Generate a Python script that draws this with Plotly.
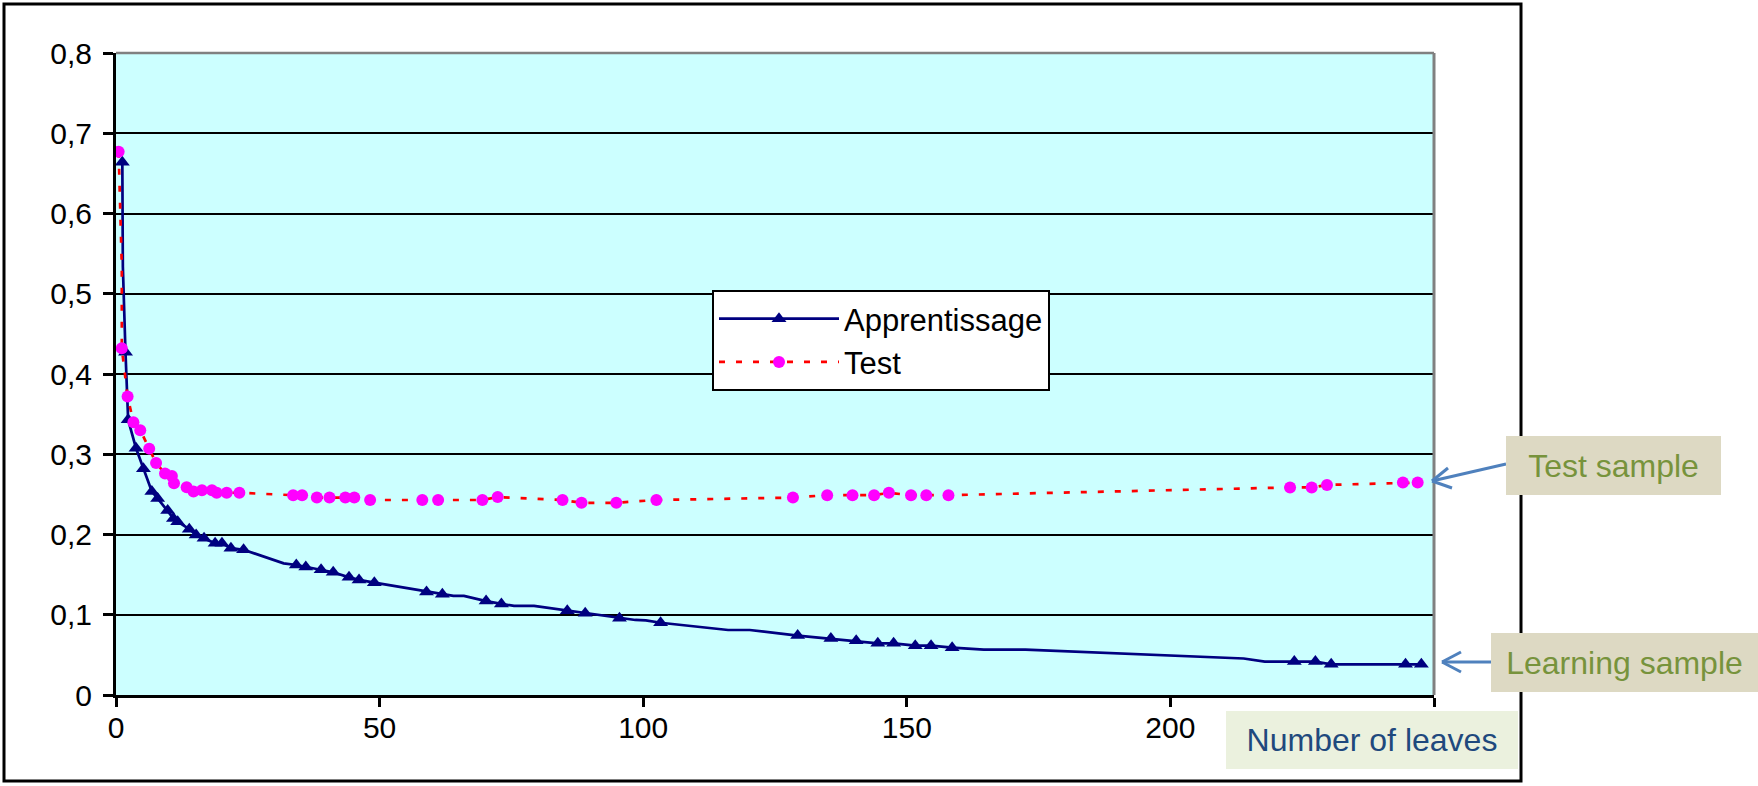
import plotly.graph_objects as go

# ---------------- data ----------------
appr_x = [1.2, 1.3, 1.8, 2.3, 3.8, 5.2, 6.8, 7.9, 9.8, 10.9, 11.7, 13.9, 15.2, 16.7,
          18.8, 20.1, 21.8, 24.2, 31.8, 34.2, 36.0, 38.9, 41.2, 44.2, 46.1, 49.0,
          58.9, 61.9, 64.0, 66.0, 70.2, 73.1, 75.5, 79.3, 85.6, 89.0, 95.5, 98.5,
          100.5, 103.3, 116.1, 120.2, 129.3, 135.6, 140.4, 144.5, 147.5, 151.6,
          154.6, 158.6, 164.6, 172.5, 213.9, 217.9, 223.5, 227.5, 230.5, 244.6, 247.6]
appr_y = [0.664, 0.534, 0.427, 0.343, 0.3075, 0.282, 0.2535, 0.245, 0.230, 0.220,
          0.216, 0.2066, 0.1995, 0.1954, 0.189, 0.189, 0.183, 0.181, 0.164, 0.162,
          0.1595, 0.156, 0.153, 0.1466, 0.1434, 0.140, 0.1285, 0.1255, 0.1235,
          0.1235, 0.117, 0.1135, 0.111, 0.111, 0.105, 0.102, 0.0955, 0.0935, 0.093,
          0.090, 0.081, 0.081, 0.074, 0.0703, 0.0677, 0.0644, 0.0644, 0.0615, 0.0615,
          0.059, 0.0566, 0.0566, 0.0455, 0.0416, 0.0416, 0.0416, 0.0382, 0.0382, 0.0382]
appr_marked = [1, 0, 1, 1, 1, 1, 1, 1, 1, 1, 1, 1, 1, 1, 1, 1, 1, 1, 0, 1, 1, 1, 1, 1,
               1, 1, 1, 1, 0, 0, 1, 1, 0, 0, 1, 1, 1, 0, 0, 1, 0, 0, 1, 1, 1, 1, 1, 1,
               1, 1, 0, 0, 0, 0, 1, 1, 1, 1, 1]

test_x = [0.5, 1.1, 1.1, 2.2, 3.3, 4.6, 6.3, 7.6, 9.3, 10.6, 11.0, 13.4, 14.7, 16.3,
          18.2, 19.1, 21.0, 23.4, 33.6, 35.3, 38.1, 40.5, 43.5, 45.2, 48.2, 58.1,
          61.1, 69.5, 72.4, 84.7, 88.3, 94.9, 102.5, 128.4, 134.9, 139.7, 143.8,
          146.6, 150.8, 153.7, 157.9, 222.7, 226.8, 229.7, 244.1, 246.9]
test_y = [0.677, 0.534, 0.432, 0.372, 0.340, 0.330, 0.307, 0.289, 0.276, 0.273, 0.264,
          0.259, 0.2535, 0.255, 0.255, 0.252, 0.252, 0.252, 0.249, 0.249, 0.246,
          0.246, 0.246, 0.246, 0.243, 0.243, 0.243, 0.243, 0.2466, 0.243, 0.2395,
          0.2395, 0.243, 0.246, 0.249, 0.249, 0.249, 0.252, 0.249, 0.249, 0.249,
          0.2586, 0.2586, 0.2618, 0.2647, 0.2647]
test_marked = [1, 0] + [1] * 44

series_names = ["Apprentissage", "Test"]
x_tick_vals = [0, 50, 100, 150, 200, 250]
x_tick_text = ["0", "50", "100", "150", "200", ""]
y_tick_vals = [0, 0.1, 0.2, 0.3, 0.4, 0.5, 0.6, 0.7, 0.8]
y_tick_text = ["0", "0,1", "0,2", "0,3", "0,4", "0,5", "0,6", "0,7", "0,8"]
label_test = "Test sample"
label_learn = "Learning sample"
label_xaxis = "Number of leaves"

# ---------------- layout geometry (pixels) ----------------
W, H = 1758, 786
L, R, T, B = 116, 1434, 53, 695
PW, PH = R - L, B - T


def px(X):
    return (X - L) / PW


def py(Y):
    return (B - Y) / PH


NAVY = "#000080"
RED = "#FF0000"
MAGENTA = "#FF00FF"
FONT = "Liberation Sans, Arial, sans-serif"

fig = go.Figure()

# Apprentissage
fig.add_trace(go.Scatter(x=appr_x, y=appr_y, mode="lines",
                         line=dict(color=NAVY, width=2.7), showlegend=False,
                         hoverinfo="skip"))
fig.add_trace(go.Scatter(x=[a for a, m in zip(appr_x, appr_marked) if m],
                         y=[b for b, m in zip(appr_y, appr_marked) if m],
                         mode="markers", showlegend=False,
                         marker=dict(symbol="triangle-up", size=13, color=NAVY)))
# Test
fig.add_trace(go.Scatter(x=test_x, y=test_y, mode="lines",
                         line=dict(color=RED, width=2.7, dash="6px,11px"),
                         showlegend=False, hoverinfo="skip"))
fig.add_trace(go.Scatter(x=[a for a, m in zip(test_x, test_marked) if m],
                         y=[b for b, m in zip(test_y, test_marked) if m],
                         mode="markers", showlegend=False,
                         marker=dict(symbol="circle", size=12, color=MAGENTA)))

# legend entries
fig.add_trace(go.Scatter(x=[None], y=[None], mode="lines+markers", name=series_names[0],
                         line=dict(color=NAVY, width=2.7),
                         marker=dict(symbol="triangle-up", size=13, color=NAVY)))
fig.add_trace(go.Scatter(x=[None], y=[None], mode="lines+markers", name=series_names[1],
                         line=dict(color=RED, width=2.7, dash="6px,11px"),
                         marker=dict(symbol="circle", size=12, color=MAGENTA)))

shapes = []
# outer chart frame
shapes.append(dict(type="rect", xref="paper", yref="paper",
                   x0=px(4), x1=px(1521), y0=py(781), y1=py(4),
                   line=dict(color="black", width=3), layer="below"))
# gray top and right border of plot area
shapes.append(dict(type="line", xref="paper", yref="paper", x0=0, x1=1, y0=1, y1=1,
                   line=dict(color="#808080", width=2.5), layer="above"))
shapes.append(dict(type="line", xref="paper", yref="paper", x0=1, x1=1, y0=0, y1=1,
                   line=dict(color="#808080", width=3), layer="above"))

ARROW = "#4F81BD"
# Test arrow
for (x0, y0, x1, y1) in [(1506, 464, 1432, 481), (1432, 481, 1448, 468),
                         (1432, 481, 1452, 488)]:
    shapes.append(dict(type="line", xref="paper", yref="paper",
                       x0=px(x0), y0=py(y0), x1=px(x1), y1=py(y1),
                       line=dict(color=ARROW, width=3)))
# Learning arrow
for (x0, y0, x1, y1) in [(1491, 662, 1442, 662), (1442, 662, 1461, 652),
                         (1442, 662, 1461, 672)]:
    shapes.append(dict(type="line", xref="paper", yref="paper",
                       x0=px(x0), y0=py(y0), x1=px(x1), y1=py(y1),
                       line=dict(color=ARROW, width=3)))


def box(text, X0, Y0, w, h, bg, color):
    return dict(text=text, xref="paper", yref="paper", x=px(X0), y=py(Y0),
                xanchor="left", yanchor="top", width=w, height=h, showarrow=False,
                bgcolor=bg, borderpad=0, borderwidth=0, align="center", valign="middle",
                font=dict(family=FONT, size=32, color=color))


annotations = [
    box(label_test, 1506, 436, 215, 59, "#DDD9C3", "#77933C"),
    box(label_learn, 1491, 633, 267, 59, "#DDD9C3", "#77933C"),
    box(label_xaxis, 1226, 711, 292, 58, "#EBF1DE", "#1F497D"),
]

fig.update_layout(
    width=W, height=H,
    margin=dict(l=L, r=W - R, t=T, b=H - B, pad=0),
    paper_bgcolor="white", plot_bgcolor="#CCFFFF",
    font=dict(family=FONT, color="black"),
    shapes=shapes, annotations=annotations,
    legend=dict(x=px(712), y=py(290), xanchor="left", yanchor="top",
                bgcolor="white", bordercolor="black", borderwidth=2,
                font=dict(family=FONT, size=31, color="black"),
                itemwidth=120, tracegroupgap=0),
    xaxis=dict(range=[0, 250], tickvals=x_tick_vals, ticktext=x_tick_text,
               showgrid=False, zeroline=False, showline=True, linecolor="black",
               linewidth=3, ticks="outside", ticklen=9, tickwidth=2.5,
               tickcolor="black", tickfont=dict(size=30, family=FONT),
               ticklabelstandoff=-5),
    yaxis=dict(range=[0, 0.8], tickvals=y_tick_vals, ticktext=y_tick_text,
               showgrid=True, gridcolor="black", gridwidth=2, zeroline=False,
               showline=True, linecolor="black", linewidth=3, ticks="outside",
               ticklen=10, tickwidth=2.5, tickcolor="black",
               tickfont=dict(size=30, family=FONT), ticklabelstandoff=5),
    showlegend=True,
)

fig.write_html("out.html")
